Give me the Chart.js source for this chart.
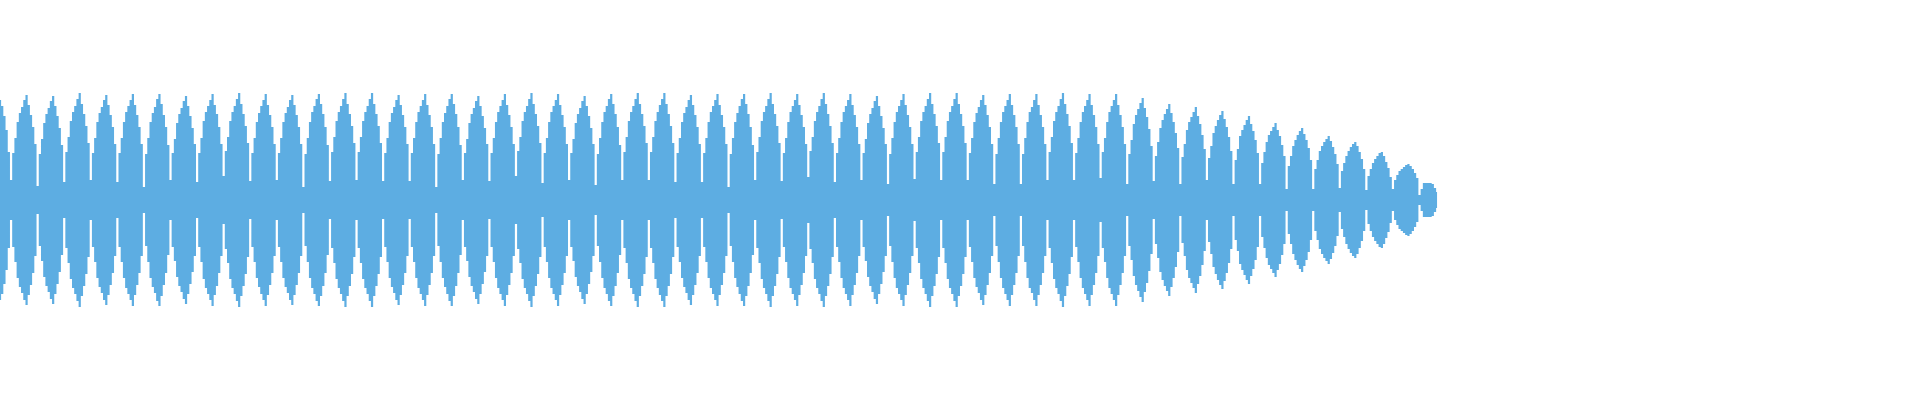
<!DOCTYPE html>
<html>
<head>
<meta charset="utf-8">
<title>Waveform</title>
<script src="https://cdn.jsdelivr.net/npm/chart.js@4.4.1/dist/chart.umd.min.js"></script>
<style>
  html, body { margin: 0; padding: 0; background: #fff; }
  #wrap { width: 1920px; height: 400px; }
</style>
</head>
<body>
<div id="wrap"><canvas id="wave"></canvas></div>
<script>
// sample slots over the whole width, only the first 650 carry sound
const SLOT_COUNT = 868;
const slots = Array.from({ length: SLOT_COUNT }, (_, i) => String(i));

// peak amplitude per sample, % of full scale (the wave is mirrored around 0)
const leadIn = [50, 47, 42, 35, 24];

// one row per beat, 12 samples each, starting at the trough
const steadyBeats = [
  [10, 23.5, 31, 39, 43.5, 46.5, 50, 52.5, 47.5, 42.5, 36.5, 28],
  [7, 23, 30.5, 38.5, 43, 46, 49.5, 52, 47, 42, 36, 27.5],
  [9, 24, 31.5, 39.5, 44, 47, 50.5, 53.5, 48, 43, 37, 28.5],
  [10, 23.5, 31, 39, 43.5, 46.5, 50, 52.5, 47.5, 42.5, 36.5, 28],
  [9, 23.5, 31, 39, 44, 47, 50, 53, 47.5, 42.5, 36.5, 28],
  [6.5, 23, 31, 39, 43.5, 46.5, 50.5, 53, 48, 42.5, 36.5, 27.5],
  [10, 23.5, 30.5, 38.5, 43, 46, 49.5, 52, 47, 42, 36, 28],
  [9, 23.5, 31, 39.5, 44, 47, 50, 53, 47.5, 43, 36.5, 28],
  [12, 24.5, 31.5, 39.5, 44, 47, 50.5, 53.5, 48, 43, 37, 28.5],
  [9.5, 23.5, 31, 39, 43.5, 47, 50, 53, 47.5, 42.5, 36.5, 28],
  [10, 23.5, 31, 39, 43.5, 46.5, 50, 52.5, 47.5, 42.5, 36.5, 28],
  [6.5, 23, 31, 39, 44, 47, 50.5, 53, 48, 43, 36.5, 27.5],
  [9.5, 24, 31.5, 39.5, 44, 47, 50.5, 53.5, 48, 43, 37, 28.5],
  [10, 24, 31.5, 39.5, 44, 47, 50.5, 53.5, 48, 43, 37, 28.5],
  [9.5, 23.5, 31, 39, 43.5, 46.5, 50, 52.5, 47.5, 42.5, 36.5, 28],
  [9.5, 23.5, 31, 39, 44, 47, 50, 53, 47.5, 42.5, 36.5, 28],
  [6.5, 23, 31, 39, 43.5, 47, 50.5, 53, 48, 43, 36.5, 27.5],
  [10, 23.5, 30.5, 38.5, 43, 46, 49.5, 52, 47, 42, 36, 28],
  [9.5, 23.5, 31, 39, 44, 47, 50, 53, 47.5, 42.5, 36.5, 28],
  [12, 24.5, 31.5, 39.5, 44, 47, 50.5, 53.5, 48, 43, 37, 28.5],
  [8.5, 23.5, 31, 39, 44, 47, 50, 53, 47.5, 42.5, 36.5, 28],
  [10, 23.5, 30.5, 38.5, 43, 46, 49.5, 52, 47, 42, 36, 28],
  [7.5, 23, 31, 39, 44, 47, 50.5, 53, 48, 43, 36.5, 27.5],
  [10, 24, 31.5, 39.5, 44, 47, 50.5, 53.5, 48, 43, 37, 28.5],
  [10, 24, 31.5, 39.5, 44, 47.5, 50.5, 53.5, 48, 43, 37, 28.5],
  [9, 23.5, 31, 39, 43.5, 46.5, 50, 52.5, 47.5, 42.5, 36.5, 28],
  [9, 23.5, 31, 39, 44, 47, 50, 53, 47.5, 42.5, 36.5, 28],
  [6.5, 23, 31, 39, 43.5, 47, 50.5, 53, 48, 43, 36.5, 27.5],
  [10, 24, 31.5, 39.5, 44, 47, 50.5, 53.5, 48, 43, 37, 28.5],
  [9.5, 23.5, 31, 39, 44, 47, 50, 53, 47.5, 42.5, 36.5, 28],
  [11.5, 24.5, 31.5, 39.5, 44, 47, 50.5, 53.5, 48, 43, 37, 28.5],
  [9, 23.5, 31, 39, 44, 47, 50, 53, 47.5, 42.5, 36.5, 28],
  [10, 23.5, 30.5, 38.5, 43, 46, 49.5, 52, 47, 42, 36, 28],
  [8, 23, 31, 39, 44, 47, 50, 53, 47.5, 42.5, 36.5, 28],
  [10.5, 24, 31.5, 39.5, 44, 47, 50.5, 53.5, 48, 43, 37, 28.5],
  [10, 24, 31.5, 39.5, 44, 47, 50.5, 53.5, 48, 43, 37, 28.5],
  [10, 23.5, 31, 39, 43.5, 46.5, 50, 52.5, 47.5, 42.5, 36.5, 28],
  [8, 23, 31, 39, 44, 47, 50, 53, 47.5, 42.5, 36.5, 28],
  [8, 23, 31, 39, 44, 46.5, 50, 53, 47.5, 42.5, 36.5, 28],
  [10, 24, 31.5, 39.5, 44, 47, 50.5, 53.5, 48, 43, 37, 28.5],
  [10, 23.5, 31, 39, 44, 47, 50, 53, 47.5, 42.5, 36.5, 28],
  [11, 24, 31, 39, 44, 47, 50, 53, 47.5, 42.5, 36.5, 28],
];

// decaying beats towards the end
const fadingBeats = [
  [8, 23, 30, 38, 42.5, 45.5, 48.5, 51, 46, 41.5, 35.5, 27],
  [9.5, 22, 29, 36, 40, 43, 45.5, 48, 43.5, 39, 33.5, 26],
  [8, 21.5, 28, 35, 39, 41.5, 44, 46.5, 42, 38, 32.5, 25.5],
  [10, 21, 27, 33.5, 37, 40, 42.5, 44.5, 40.5, 36.5, 31.5, 24.5],
  [8, 20, 25.5, 32, 35, 37.5, 40, 42, 38, 34.5, 30, 23.5],
  [8, 18.5, 24, 29, 32.5, 34.5, 36.5, 38.5, 35, 32, 27.5, 22],
  [5.5, 17, 22, 27, 30, 32.5, 34.5, 36, 33, 30, 26, 20],
  [5.5, 15.5, 20, 24.5, 27, 29, 30.5, 32, 29.5, 26.5, 23, 18],
  [6, 14.5, 18.5, 22, 24.5, 26.5, 28, 29, 27, 24, 20.5, 15.5],
  [5, 12, 15.5, 18.5, 20.5, 22, 23.5, 24, 22, 19, 16, 11.5],
  [5.5, 10, 12.5, 14.5, 15.5, 16.5, 17.5, 18, 17, 15.5, 13.5, 11],
];

const tail = [2.5, 5.5, 8.5, 8.5, 8.5, 8.5, 8, 6, 4];

const upper = [...leadIn, ...steadyBeats.flat(), ...fadingBeats.flat(), ...tail];
const lower = upper.map((v) => -v);

const WAVE_COLOR = "#5DADE2";

new Chart(document.getElementById("wave"), {
  type: "line",
  data: {
    labels: slots,
    datasets: [
      {
        data: upper,
        stepped: "middle",
        fill: "+1",
        backgroundColor: WAVE_COLOR,
        borderColor: "rgba(0,0,0,0)",
        borderWidth: 0,
        pointRadius: 0,
      },
      {
        data: lower,
        stepped: "middle",
        fill: false,
        borderColor: "rgba(0,0,0,0)",
        borderWidth: 0,
        pointRadius: 0,
      },
    ],
  },
  options: {
    responsive: true,
    maintainAspectRatio: false,
    animation: false,
    layout: { padding: 0 },
    plugins: {
      legend: { display: false },
      tooltip: { enabled: false },
    },
    scales: {
      x: { display: false, offset: false },
      y: { display: false, min: -100, max: 100 },
    },
  },
});
</script>
</body>
</html>
